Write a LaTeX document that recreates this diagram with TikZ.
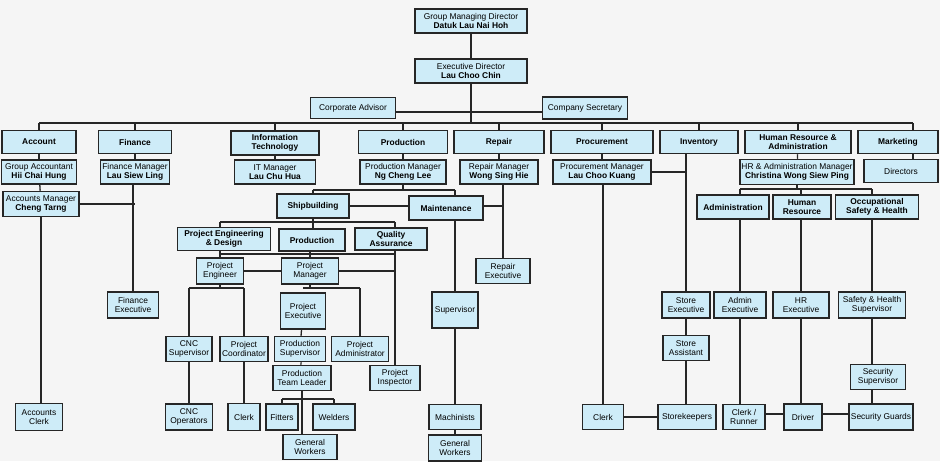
\documentclass[tikz,border=0pt]{standalone}
\usepackage{fontspec}
\setmainfont{Liberation Sans}
\usetikzlibrary{backgrounds}
\definecolor{boxfill}{RGB}{206,236,248}
\tikzset{
  box/.style={draw=black!85, line width=1.5pt, fill=boxfill, align=center,
    inner sep=0pt, font=\fontsize{8.4}{9.6}\selectfont},
  ln/.style={draw=black!85, line width=1.3pt},
}
\newcommand{\bx}[6]{\node[box,minimum width=#4pt,minimum height=#5pt] (#1) at (#2,-#3) {#6};}
\begin{document}
\begin{tikzpicture}[x=1pt,y=1pt]
\useasboundingbox (0,0) rectangle (940,-461);
\bx{gmd}{471}{21}{112}{24}{Group Managing Director\\\textbf{Datuk Lau Nai Hoh}}
\bx{ed}{471}{71}{112}{24}{Executive Director\\\textbf{Lau Choo Chin}}
\bx{ca}{353}{108}{85}{21}{Corporate Advisor}
\bx{cs}{585}{108}{85}{22}{Company Secretary}
\bx{acc}{39}{142}{74}{23}{\textbf{Account}}
\bx{fin}{135}{142}{73}{23}{\textbf{Finance}}
\bx{it}{275}{143}{88}{24}{\textbf{Information}\\\textbf{Technology}}
\bx{prod}{403}{142}{89}{23}{\textbf{Production}}
\bx{rep}{499}{142}{90}{23}{\textbf{Repair}}
\bx{proc}{602}{142}{102}{23}{\textbf{Procurement}}
\bx{inv}{699}{142}{78}{23}{\textbf{Inventory}}
\bx{hra}{798}{142}{106}{23}{\textbf{Human Resource \&}\\\textbf{Administration}}
\bx{mkt}{898}{142}{80}{23}{\textbf{Marketing}}
\bx{ga}{39}{172}{75}{24}{Group Accountant\\\textbf{Hii Chai Hung}}
\bx{fm}{135}{172}{69}{24}{Finance Manager\\\textbf{Lau Siew Ling}}
\bx{itm}{275}{172}{81}{24}{IT Manager\\\textbf{Lau Chu Hua}}
\bx{pm}{403}{172}{86}{24}{Production Manager\\\textbf{Ng Cheng Lee}}
\bx{rm}{499}{172}{78}{24}{Repair Manager\\\textbf{Wong Sing Hie}}
\bx{prm}{602}{172}{98}{24}{Procurement Manager\\\textbf{Lau Choo Kuang}}
\bx{hrm}{797}{172}{114}{25}{HR \& Administration Manager\\\textbf{Christina Wong Siew Ping}}
\bx{dir}{901}{171}{74}{23}{Directors}
\bx{am}{41}{204}{76}{25}{Accounts Manager\\\textbf{Cheng Tarng}}
\bx{ship}{313}{206}{72}{24}{\textbf{Shipbuilding}}
\bx{maint}{446}{208}{74}{24}{\textbf{Maintenance}}
\bx{ped}{224}{239}{93}{23}{\textbf{Project Engineering}\\\textbf{\& Design}}
\bx{prodb}{312}{240}{66}{22}{\textbf{Production}}
\bx{qa}{391}{239}{72}{22}{\textbf{Quality}\\\textbf{Assurance}}
\bx{pe}{220}{271}{47}{26}{Project\\Engineer}
\bx{pmgr}{310}{271}{57}{26}{Project\\Manager}
\bx{pexec}{303}{311}{45}{36}{Project\\Executive}
\bx{cncs}{189}{349}{46}{25}{CNC\\Supervisor}
\bx{pcoord}{244}{349}{48}{25}{Project\\Coordinator}
\bx{psup}{300}{349}{51}{25}{Production\\Supervisor}
\bx{padmin}{360}{349}{57}{25}{Project\\Administrator}
\bx{ptl}{302}{378}{58}{25}{Production\\Team Leader}
\bx{pins}{395}{378}{50}{25}{Project\\Inspector}
\bx{cncop}{189}{417}{47}{26}{CNC\\Operators}
\bx{clerka}{244}{417}{32}{27}{Clerk}
\bx{fit}{282}{417}{32}{26}{Fitters}
\bx{weld}{334}{417}{42}{26}{Welders}
\bx{gwa}{310}{447}{54}{25}{General\\Workers}
\bx{accclerk}{39}{417}{47}{27}{Accounts\\Clerk}
\bx{finexec}{133}{305}{51}{26}{Finance\\Executive}
\bx{sup}{455}{310}{46}{36}{Supervisor}
\bx{mach}{455}{417}{52}{25}{Machinists}
\bx{gwb}{455}{448}{53}{26}{General\\Workers}
\bx{repexec}{503}{271}{54}{25}{Repair\\Executive}
\bx{clerkb}{603}{417}{41}{25}{Clerk}
\bx{stexec}{686}{305}{48}{26}{Store\\Executive}
\bx{stasst}{686}{348}{46}{25}{Store\\Assistant}
\bx{stk}{687}{417}{58}{25}{Storekeepers}
\bx{adm}{733}{207}{72}{24}{\textbf{Administration}}
\bx{hr}{802}{207}{58}{24}{\textbf{Human}\\\textbf{Resource}}
\bx{osh}{877}{207}{83}{24}{\textbf{Occupational}\\\textbf{Safety \& Health}}
\bx{admexec}{740}{305}{52}{26}{Admin\\Executive}
\bx{cr}{744}{417}{42}{25}{Clerk /\\Runner}
\bx{hrexec}{801}{305}{56}{26}{HR\\Executive}
\bx{drv}{803}{417}{38}{26}{Driver}
\bx{shs}{872}{305}{67}{26}{Safety \& Health\\Supervisor}
\bx{ss}{878}{377}{55}{25}{Security\\Supervisor}
\bx{sg}{881}{417}{64}{26}{Security Guards}
\begin{scope}[on background layer]
\fill[black!4] (0,0) rectangle (940,-461);
\coordinate (b0) at (0,-123);
\draw[ln] (gmd) -- (ed);
\draw[ln] (ed.south) -- (ed.south |- b0);
\draw[ln] ([yshift=-4pt]ca.east) -- ([yshift=-4pt]ca.east -| cs.west);
\draw[ln] (acc.north |- b0) -- ([xshift=15pt]mkt.north |- b0);
\foreach \d in {acc,fin,it,prod,rep,proc,inv,hra}{\draw[ln] (\d.north) -- (\d.north |- b0);}
\draw[ln] ([xshift=15pt]mkt.north) -- ([xshift=15pt]mkt.north |- b0);
\draw[ln] ([xshift=15pt]mkt.south) -- ([xshift=15pt]mkt.south |- dir.north);
\draw[ln] (acc) -- (ga); \draw[ln] (fin) -- (fm); \draw[ln] (it) -- (itm);
\draw[ln] (prod) -- (pm); \draw[ln] (rep) -- (rm); \draw[ln] (proc) -- (prm); \draw[ln] (hra) -- (hrm);
\draw[ln] (ga) -- (am); \draw[ln] (am.south) -- (am.south |- accclerk.north);
\draw[ln] (am.east) -- (am.east -| fm.south); \draw[ln] (finexec.north |- fm.south) -- (finexec.north);
\coordinate (b1) at (0,-190);
\draw[ln] (pm.south) -- (pm.south |- b1);
\draw[ln] (ship.north |- b1) -- (sup.north |- b1);
\draw[ln] (ship.north) -- (ship.north |- b1);
\draw[ln] (sup.north |- maint.north) -- (sup.north |- b1);
\draw[ln] (ship.east) -- (ship.east -| maint.west);
\draw[ln] (sup.north |- maint.south) -- (sup.north);
\draw[ln] (sup) -- (mach); \draw[ln] (mach) -- (gwb);
\draw[ln] (repexec.north |- rm.south) -- (repexec.north);
\draw[ln] (maint.east |- 0,-206) -- (repexec.north |- 0,-206);
\coordinate (b2) at (0,-222);
\draw[ln] (ship.south) -- (ship.south |- b2);
\draw[ln] (pe.north |- b2) -- (pins.north |- b2);
\draw[ln] (pe.north |- b2) -- (pe.north |- ped.north);
\draw[ln] (ship.south |- b2) -- (ship.south |- prodb.north);
\draw[ln] (pins.north |- b2) -- (pins.north |- qa.north);
\coordinate (b3) at (0,-254);
\draw[ln] (pe.north |- b3) -- (pins.north |- b3);
\draw[ln] (pe.north |- ped.south) -- (pe.north);
\draw[ln] (pmgr.north |- prodb.south) -- (pmgr.north);
\draw[ln] (pins.north |- qa.south) -- (pins.north);
\draw[ln] (pe.east) -- (pmgr.west);
\draw[ln] (pmgr.east) -- (pmgr.east -| pins.north);
\coordinate (b4) at (0,-288);
\draw[ln] (pe.south) -- (pe.south |- b4);
\draw[ln] (cncs.north |- b4) -- (pcoord.north |- b4);
\draw[ln] (cncs.north) -- (cncs.north |- b4); \draw[ln] (pcoord.north) -- (pcoord.north |- b4);
\draw[ln] (cncs) -- (cncop); \draw[ln] (pcoord) -- (clerka);
\draw[ln] (pmgr.south) -- (pmgr.south |- b4);
\draw[ln] (pexec.north |- b4) -- (padmin.north |- b4);
\draw[ln] (padmin.north) -- (padmin.north |- b4);
\draw[ln] (pexec) -- (psup); \draw[ln] (psup) -- (ptl);
\coordinate (b5) at (0,-399);
\draw[ln] (ptl.south) -- (ptl.south |- gwa.north);
\draw[ln] (fit.north |- b5) -- (weld.north |- b5);
\draw[ln] (fit.north) -- (fit.north |- b5); \draw[ln] (weld.north) -- (weld.north |- b5);
\draw[ln] (clerkb.north |- prm.south) -- (clerkb.north);
\draw[ln] (prm.east) -- (prm.east -| stexec.north);
\draw[ln] (stexec.north |- inv.south) -- (stexec.north);
\draw[ln] (stexec) -- (stasst); \draw[ln] (stasst.south) -- (stasst.south |- stk.north);
\draw[ln] (clerkb.east) -- (stk.west);
\coordinate (b6) at (0,-189);
\draw[ln] (hrm.south) -- (hrm.south |- b6);
\draw[ln] (admexec.north |- b6) -- (shs.north |- b6);
\draw[ln] (admexec.north) -- (admexec.north |- b6);
\draw[ln] (hrexec.north) -- (hrexec.north |- b6);
\draw[ln] (shs.north) -- (shs.north |- b6);
\draw[ln] (admexec.south) -- (admexec.south |- cr.north);
\draw[ln] (hrexec.south) -- (hrexec.south |- drv.north);
\draw[ln] (shs.south) -- (shs.south |- sg.north);
\draw[ln] (cr.east |- 0,-414) -- (sg.west |- 0,-414);
\end{scope}
\end{tikzpicture}
\end{document}
